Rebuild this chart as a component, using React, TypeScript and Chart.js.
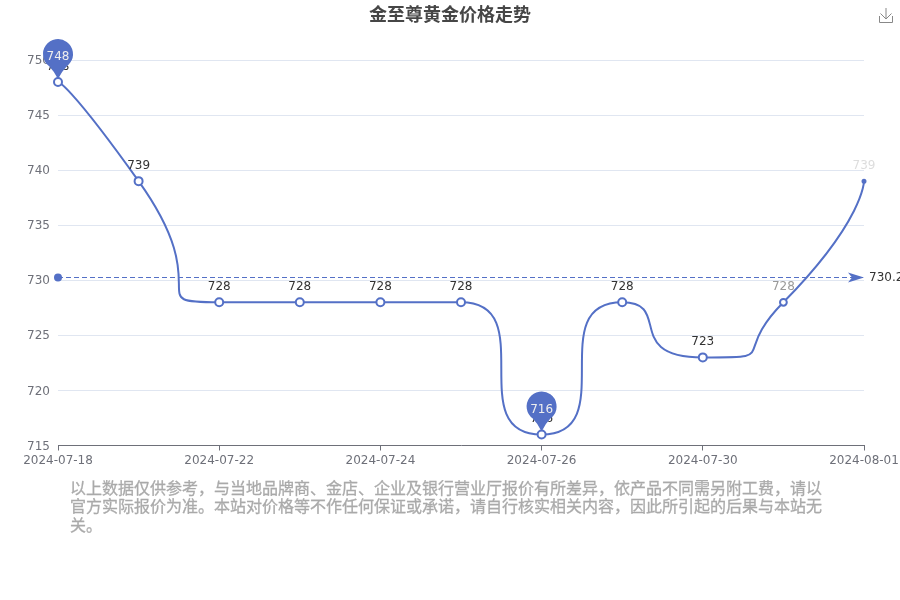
import React, { useEffect, useRef } from "react";
import { Chart, registerables } from "chart.js";

Chart.register(...registerables);

const categories = [
  "2024-07-18", "2024-07-20", "2024-07-22", "2024-07-23", "2024-07-24", "2024-07-25",
  "2024-07-26", "2024-07-28", "2024-07-30", "2024-07-31", "2024-08-01",
];
const prices = [748, 739, 728, 728, 728, 728, 716, 728, 723, 728, 739];
const averagePrice = 730.27;
const averageSeries = categories.map(() => averagePrice);
const pinnedIndexes = [0, 6];
const titleText = "金至尊黄金价格走势";
const noteText =
  "以上数据仅供参考，与当地品牌商、金店、企业及银行营业厅报价有所差异，依产品不同需另附工费，请以官方实际报价为准。本站对价格等不作任何保证或承诺，请自行核实相关内容，因此所引起的后果与本站无关。";

const BLUE = "#5470c6";
const SANS = '"DejaVu Sans", "Noto Sans CJK SC", sans-serif';
const labelColors = ["#333", "#333", "#333", "#333", "#333", "#333", "#333", "#333", "#333", "#999", "#ddd"];
const pointSizes = [4, 4, 4, 4, 4, 4, 4, 4, 4, 3.4, 1.5];

// Same bezier construction as a smooth=1 line: tangents clipped to each neighbour's box.
function applySmooth(pts: any[], smooth: number) {
  let cx = pts[0].x;
  let cy = pts[0].y;
  for (let i = 0; i < pts.length; i++) {
    const p = pts[i];
    if (i === 0) {
      p.cp1x = p.x;
      p.cp1y = p.y;
      p.cp2x = cx;
      p.cp2y = cy;
      continue;
    }
    const prev = pts[i - 1];
    const next = pts[i + 1];
    let cp1x = p.x;
    let cp1y = p.y;
    let ncx = p.x;
    let ncy = p.y;
    if (next) {
      let vx = next.x - prev.x;
      let vy = next.y - prev.y;
      const lenPrev = Math.hypot(p.x - prev.x, p.y - prev.y);
      const lenNext = Math.hypot(next.x - p.x, next.y - p.y);
      const ratio = lenNext / (lenNext + lenPrev);
      ncx = p.x + vx * smooth * ratio;
      ncy = p.y + vy * smooth * ratio;
      ncx = Math.max(Math.min(ncx, Math.max(next.x, p.x)), Math.min(next.x, p.x));
      ncy = Math.max(Math.min(ncy, Math.max(next.y, p.y)), Math.min(next.y, p.y));
      vx = ncx - p.x;
      vy = ncy - p.y;
      cp1x = p.x - (vx * lenPrev) / lenNext;
      cp1y = p.y - (vy * lenPrev) / lenNext;
      cp1x = Math.max(Math.min(cp1x, Math.max(prev.x, p.x)), Math.min(prev.x, p.x));
      cp1y = Math.max(Math.min(cp1y, Math.max(prev.y, p.y)), Math.min(prev.y, p.y));
      vx = p.x - cp1x;
      vy = p.y - cp1y;
      ncx = p.x + (vx * lenNext) / lenPrev;
      ncy = p.y + (vy * lenNext) / lenPrev;
    }
    prev.cp2x = cx;
    prev.cp2y = cy;
    p.cp1x = cp1x;
    p.cp1y = cp1y;
    p.cp2x = p.x;
    p.cp2y = p.y;
    cx = ncx;
    cy = ncy;
  }
}

const smoothPlugin = {
  id: "smoothLine",
  beforeDatasetsDraw(chart: any) {
    const line = chart.getDatasetMeta(0).dataset;
    applySmooth(line.points, 1);
    line._path = undefined;
    // keep the thin dashed line on a whole pixel row so it stays crisp
    const avg = chart.getDatasetMeta(1);
    avg.data.forEach((p: any) => {
      p.y = Math.floor(p.y) + 0.5;
    });
    avg.dataset._path = undefined;
  },
};

function drawPin(ctx: CanvasRenderingContext2D, x: number, y: number, text: string) {
  const r = 15;
  const cy = y - 28;
  const tipY = y - 3;
  const a = Math.PI / 5;
  ctx.save();
  ctx.fillStyle = BLUE;
  ctx.beginPath();
  ctx.arc(x, cy, r, Math.PI / 2 + a, Math.PI / 2 - a);
  ctx.quadraticCurveTo(x + 4, cy + 17, x, tipY);
  ctx.quadraticCurveTo(x - 4, cy + 17, x - r * Math.sin(a), cy + r * Math.cos(a));
  ctx.closePath();
  ctx.fill();
  ctx.fillStyle = "#eee";
  ctx.font = `12px ${SANS}`;
  ctx.textAlign = "center";
  ctx.textBaseline = "middle";
  ctx.fillText(text, x, cy + 3);
  ctx.restore();
}

const overlayPlugin = {
  id: "overlay",
  afterDatasetsDraw(chart: any) {
    const ctx: CanvasRenderingContext2D = chart.ctx;
    const pts = chart.getDatasetMeta(0).data;
    const avg = chart.getDatasetMeta(1).data;

    ctx.save();
    ctx.font = `12px ${SANS}`;
    ctx.textAlign = "center";
    ctx.textBaseline = "alphabetic";
    pts.forEach((p: any, i: number) => {
      ctx.fillStyle = labelColors[i];
      ctx.fillText(String(prices[i]), p.x, p.y - 12);
    });

    // arrow at the end of the average line
    const end = avg[avg.length - 1];
    ctx.fillStyle = BLUE;
    ctx.beginPath();
    ctx.moveTo(end.x, end.y);
    ctx.lineTo(end.x - 16, end.y - 5);
    ctx.lineTo(end.x - 12, end.y);
    ctx.lineTo(end.x - 16, end.y + 5);
    ctx.closePath();
    ctx.fill();

    ctx.fillStyle = "#333";
    ctx.textAlign = "left";
    ctx.textBaseline = "middle";
    ctx.fillText(String(averagePrice), end.x + 5, end.y);
    ctx.restore();

    pinnedIndexes.forEach((i) => drawPin(ctx, pts[i].x, pts[i].y, String(prices[i])));

    // download icon
    ctx.save();
    ctx.strokeStyle = "#888";
    ctx.lineWidth = 1;
    ctx.beginPath();
    ctx.moveTo(879.5, 16);
    ctx.lineTo(879.5, 22.5);
    ctx.lineTo(892.5, 22.5);
    ctx.lineTo(892.5, 16);
    ctx.moveTo(886, 8);
    ctx.lineTo(886, 19);
    ctx.moveTo(880.5, 13.5);
    ctx.lineTo(886, 19);
    ctx.lineTo(891.5, 13.5);
    ctx.stroke();
    ctx.restore();
  },
};

export default function App() {
  const ref = useRef<HTMLCanvasElement>(null);
  useEffect(() => {
    const chart = new Chart(ref.current!, {
      type: "line",
      data: {
        labels: categories,
        datasets: [
          {
            label: "价格",
            data: prices,
            borderColor: BLUE,
            borderWidth: 2,
            tension: 0.5,
            capBezierPoints: false,
            clip: false,
            pointRadius: pointSizes,
            pointBackgroundColor: ["#fff", "#fff", "#fff", "#fff", "#fff", "#fff", "#fff", "#fff", "#fff", "#fff", BLUE],
            pointBorderColor: BLUE,
            pointBorderWidth: 2,
          },
          {
            label: "平均值",
            data: averageSeries,
            borderColor: BLUE,
            borderWidth: 1,
            borderDash: [5, 3],
            clip: false,
            pointRadius: [4, 0, 0, 0, 0, 0, 0, 0, 0, 0, 0],
            pointBackgroundColor: BLUE,
            pointBorderWidth: 0,
          },
        ],
      } as any,
      options: {
        responsive: false,
        animation: false,
        layout: { padding: 0 },
        plugins: {
          legend: { display: false },
          tooltip: { enabled: false },
          title: {
            display: true,
            text: titleText,
            color: "#464646",
            font: { family: SANS, size: 18, weight: "bold" },
            padding: { top: 6, bottom: 32.4 },
          },
        },
        scales: {
          x: {
            type: "category",
            offset: false,
            afterBuildTicks: (s: any) => {
              s.ticks = s.ticks.filter((_: any, i: number) => i % 2 === 0);
            },
            afterFit: (s: any) => {
              s.height = 154.5;
              s.paddingLeft = 0;
              s.paddingRight = 36;
            },
            grid: { drawOnChartArea: false, tickLength: 5, tickColor: "#6E7079" },
            border: { color: "#6E7079" },
            ticks: { autoSkip: false, maxRotation: 0, color: "#6E7079", padding: 3, font: { family: SANS, size: 12 } },
          },
          y: {
            min: 715,
            max: 750,
            afterFit: (s: any) => {
              s.width = 58;
            },
            grid: { color: "#E0E6F1", drawTicks: false },
            border: { display: false },
            ticks: { stepSize: 5, color: "#6E7079", padding: 8, labelOffset: 1, font: { family: SANS, size: 12 } },
          },
        },
      } as any,
      plugins: [smoothPlugin, overlayPlugin],
    });
    return () => chart.destroy();
  }, []);

  return (
    <div style={{ position: "fixed", left: 0, top: 0, width: 900, height: 600, overflow: "hidden", background: "#fff" }}>
      <canvas ref={ref} width={900} height={600} style={{ display: "block" }} />
      <div
        style={{
          position: "absolute",
          left: 70,
          top: 479.5,
          width: 755,
          fontFamily: SANS,
          fontSize: 16,
          lineHeight: "18.5px",
          fontWeight: 400,
          color: "#aaa",
          WebkitTextStroke: "0.3px #aaa",
        }}
      >
        {noteText}
      </div>
    </div>
  );
}
